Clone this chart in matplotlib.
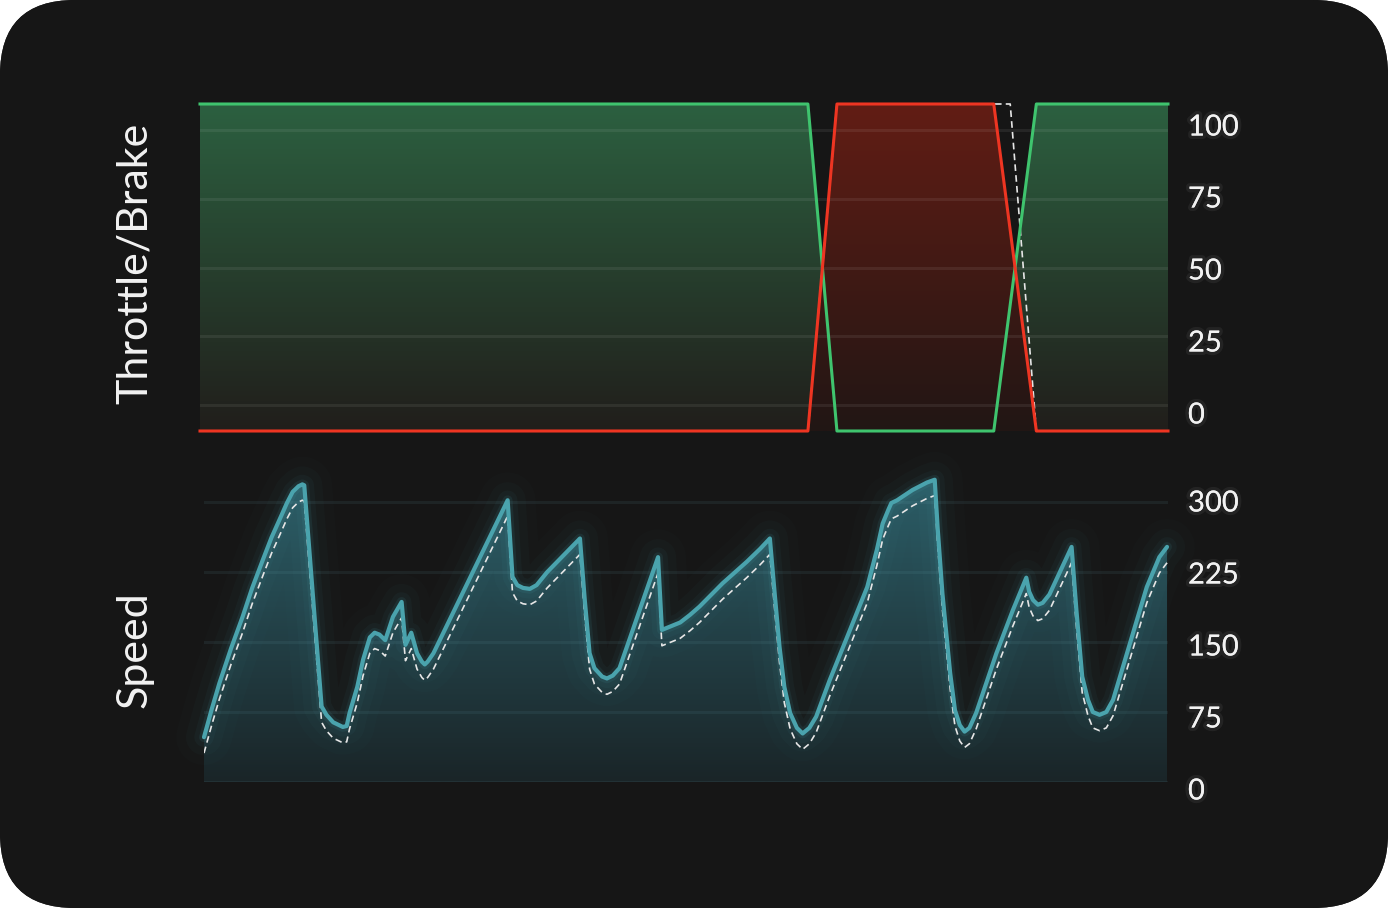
import numpy as np
import matplotlib.pyplot as plt
from matplotlib.patches import FancyBboxPatch
import matplotlib.patheffects as pe
import matplotlib.transforms as mtransforms

W, H = 1388, 908

# throttle / brake trace, distance in m
tb_dist = [0, 628, 658, 820, 864, 1000]
throttle = [100, 100, 0, 0, 100, 100]
brake = [0, 0, 100, 100, 0, 0]
ref_brake_dist = [0, 628, 658, 837, 864, 1000]
ref_brake = [0, 0, 100, 100, 0, 0]
tb_ticks = [0, 25, 50, 75, 100]

# speed trace (km/h) and reference lap
speed_dist = [0, 8, 16, 28, 40, 50, 61, 70, 80, 86, 92, 98, 102, 104,
              122, 127, 134, 144, 148, 151, 159, 165, 172, 177, 182, 188, 196, 205, 209, 215,
              221, 226, 229, 232, 238,
              315, 320, 325, 331, 338, 345, 356, 390,
              395, 400, 405, 413, 418, 424, 431, 471,
              475, 494, 504, 514, 538, 563, 577, 587,
              592, 597, 602, 608, 615, 621, 628, 635, 649, 667, 688, 698, 704, 710, 713, 719,
              735, 750, 758,
              761, 766, 774, 779, 784, 789, 794, 801, 822, 839, 853, 856, 860, 865, 870, 877, 900,
              905, 911, 917, 922, 929, 936, 943, 978, 991, 999]
speed = [48, 78, 106, 143, 177, 208, 238, 262, 285, 299, 311, 317, 319, 318,
         81, 72, 64, 59, 60, 74, 102, 131, 155, 160, 158, 152, 177, 193, 147, 160,
         138, 129, 126, 129, 138,
         302, 220, 211, 208, 207, 211, 225, 261,
         195, 138, 122, 113, 111, 114, 122, 241,
         163, 171, 179, 188, 213, 236, 250, 261,
         202, 145, 102, 74, 58, 52, 58, 70, 109, 155, 209, 249, 277, 292, 299, 302,
         313, 321, 324,
         273, 202, 117, 77, 61, 54, 58, 74, 138, 184, 219, 204, 195, 190, 192, 201, 252,
         184, 113, 88, 75, 72, 75, 88, 209, 241, 252]
ref_speed = [31, 61, 89, 126, 160, 191, 221, 245, 268, 282, 294, 300, 302, 301,
             64, 55, 47, 42, 43, 57, 85, 114, 138, 143, 141, 135, 160, 176, 130, 143,
             121, 112, 109, 112, 121,
             285, 203, 194, 191, 190, 194, 208, 244,
             178, 121, 105, 96, 94, 97, 105, 224,
             146, 154, 162, 171, 196, 219, 233, 244,
             185, 128, 85, 57, 41, 35, 41, 53, 92, 138, 192, 232, 260, 275, 282, 285,
             296, 304, 307,
             256, 185, 100, 60, 44, 37, 41, 57, 121, 167, 202, 187, 178, 173, 175, 184, 235,
             167, 96, 71, 58, 55, 58, 71, 192, 224, 235]
speed_ticks = [0, 75, 150, 225, 300]

FONT = ['Lato', 'DejaVu Sans']
TXT = '#f2f2f2'
GREEN = '#3fc46e'
RED = '#ee3522'
TEAL = '#4aa3ad'


def grad_fill(ax, x, y, top_rgb, bot_rgb, y0, y1, z):
    poly = ax.fill_between(x, y, y0, color='none', lw=0)
    t = np.linspace(1, 0, 256)
    img = np.ones((256, 1, 4))
    for i in range(3):
        img[:, 0, i] = (bot_rgb[i] + (top_rgb[i] - bot_rgb[i]) * t) / 255
    im = ax.imshow(img, aspect='auto', extent=[min(x), max(x), y0, y1],
                   origin='upper', zorder=z, interpolation='bilinear')
    im.set_clip_path(poly.get_paths()[0], ax.transData)


def label_axis(rect, ticks, lims):
    a = fig.add_axes(rect)
    a.patch.set_alpha(0)
    for s in a.spines.values():
        s.set_visible(False)
    a.set_xticks([])
    a.yaxis.tick_right()
    a.set_yticks(ticks)
    a.set_yticklabels([str(v) for v in ticks])
    a.set_ylim(*lims)
    a.tick_params(axis='y', length=0, pad=14.4, labelsize=21, labelcolor=TXT)
    for lab in a.get_yticklabels():
        lab.set_family(FONT)
        lab.set_path_effects(glow)
    return a


fig = plt.figure(figsize=(W / 100, H / 100), dpi=100, facecolor='white')

# card background
bg = fig.add_axes([0, 0, 1, 1])
bg.set_xlim(0, W)
bg.set_ylim(H, 0)
bg.axis('off')
card = FancyBboxPatch((0, 0), W, H, boxstyle='round,pad=0,rounding_size=75',
                      fc='#161616', ec='none')
bg.add_patch(card)
gx = np.linspace(0, 1, 200)[None, :]
gy = np.linspace(0, 1, 120)[:, None]
shade = 0.7 * gx + 0.3 * (1 - gy)
lum = (28 - 11 * shade) / 255
bgimg = np.dstack([lum, lum, lum, np.ones_like(lum)])
im = bg.imshow(bgimg, extent=[0, W, H, 0], aspect='auto', interpolation='bilinear')
im.set_clip_path(card)
bg.set_xlim(0, W)
bg.set_ylim(H, 0)

bg.text(135, 263, 'Throttle/Brake', rotation=90, ha='center', va='center',
        fontsize=31, color=TXT, family=FONT)
bg.text(135, 650, 'Speed', rotation=90, ha='center', va='center',
        fontsize=31, color=TXT, family=FONT)

glow = [pe.withStroke(linewidth=5, foreground=(1, 1, 1, 0.06))]

# ---- throttle / brake panel
ax = fig.add_axes([200 / W, (H - 431) / H, 968 / W, 327 / H])
ax.patch.set_alpha(0)
ax_g = ax.twinx()
ax_g.set_ylim(-9.45, 109.45)
ax_g.axis('off')
gtr = mtransforms.blended_transform_factory(ax.transAxes, ax_g.transData)
for v in tb_ticks:
    ax.plot([0, 1], [v, v], transform=gtr, color=(1, 1, 1, 0.07), lw=2.2, zorder=3)

grad_fill(ax, tb_dist, throttle, (44, 96, 64), (33, 30, 27), 0, 100, 1)
grad_fill(ax, tb_dist, brake, (98, 29, 21), (33, 22, 20), 0, 100, 2)
ax.plot(ref_brake_dist, ref_brake, color='#e6e6e6', lw=1.2, dashes=(4, 2.5),
        zorder=4, clip_on=False)
ax.plot(tb_dist, throttle, color=GREEN, lw=2.2, zorder=5, clip_on=False)
ax.plot(tb_dist, brake, color=RED, lw=2.2, zorder=6, clip_on=False)
ax.set_xlim(0, 1000)
ax.set_ylim(0, 100)
ax.axis('off')

label_axis([200 / W, (H - 431) / H, 968 / W, 327 / H], tb_ticks, (-6.25, 107.3))

# ---- speed panel
ax2 = fig.add_axes([204 / W, (H - 782) / H, 964 / W, 312 / H])
ax2.patch.set_alpha(0)
for v in speed_ticks:
    ax2.axhline(v, color=(0.45, 0.7, 0.75, 0.09), lw=2.2, zorder=3)
grad_fill(ax2, speed_dist, speed, (44, 94, 104), (26, 37, 40), 0, 334.4, 1)
for lw, a in [(40, 0.02), (26, 0.03), (14, 0.05), (7, 0.1)]:
    ax2.plot(speed_dist, speed, color=TEAL, lw=lw, alpha=a, zorder=2,
             solid_joinstyle='round', solid_capstyle='round', clip_on=False)
ax2.plot(speed_dist, ref_speed, color='#e6e6e6', lw=1.2, dashes=(4, 2.5), zorder=4)
ax2.plot(speed_dist, speed, color=TEAL, lw=3, zorder=5,
         solid_joinstyle='round', solid_capstyle='round', clip_on=False)
ax2.set_xlim(0, 1000)
ax2.set_ylim(0, 334.4)
ax2.axis('off')

# label strip reaches a little below the plot so the 0 sits under the baseline
label_axis([204 / W, (H - 800) / H, 964 / W, 330 / H], speed_ticks, (-11.46, 332.3))

fig.savefig('out.png', dpi=100, facecolor='white')
